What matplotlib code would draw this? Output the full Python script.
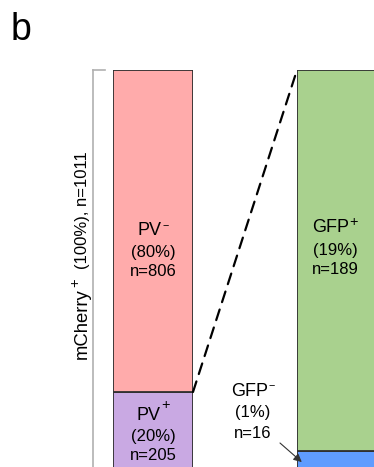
import numpy as np
import matplotlib
matplotlib.use('Agg')
import matplotlib.pyplot as plt
from matplotlib.patches import ConnectionPatch
from matplotlib.lines import Line2D

plt.rcParams['font.family'] = ['Liberation Sans', 'DejaVu Sans']

# data
total_n = 1011
pv_names = ['PV', 'PV']
pv_signs = ['+', '-']
pv_counts = [205, 806]
pv_pct = ['20%', '80%']
pv_colors = ['#C9A9E3', '#FFABAB']
gfp_names = ['GFP', 'GFP']
gfp_signs = ['-', '+']
gfp_counts = [16, 189]
gfp_pct = ['1%', '19%']
gfp_colors = ['#5F9CFF', '#A9D18E']

W, H = 374, 467
fig = plt.figure(figsize=(W / 100, H / 100), dpi=100)
renderer = fig.canvas.get_renderer()

def fx(px):
    return px / W

def fy(py):
    return (H - py) / H

def sup_text(x, y, base, sign, size, rot=0, raise_px=None):
    # base text plus a raised, nearly full size sign
    sgn = '\u2212' if sign == '-' else '+'
    ssize = size * 0.8 if sign == '+' else size * 0.6
    if raise_px is None:
        raise_px = size * 0.45
    if rot == 0:
        t = fig.text(0, 0, base, fontsize=size)
        w = t.get_window_extent(renderer).width
        t.remove()
        t2 = fig.text(0, 0, sgn, fontsize=ssize)
        w2 = t2.get_window_extent(renderer).width
        t2.remove()
        x0 = x - (w + w2) / 2
        fig.text(fx(x0), fy(y), base, ha='left', va='center', fontsize=size)
        fig.text(fx(x0 + w + 0.5), fy(y - raise_px), sgn, ha='left', va='center', fontsize=ssize)
    else:
        t = fig.text(fx(x), fy(y), base, rotation=90, rotation_mode='anchor',
                     ha='left', va='baseline', fontsize=size)
        h = t.get_window_extent(renderer).height
        fig.text(fx(x - size * 0.62), fy(y - h - 1), sgn, rotation=90, rotation_mode='anchor',
                 ha='left', va='baseline', fontsize=ssize)

edge = '#303030'

# left bar (all mCherry+ cells, split by PV)
axL = fig.add_axes([fx(113), fy(467), fx(193) - fx(113), fy(70) - fy(467)])
bottom = 0
for c, col in zip(pv_counts, pv_colors):
    axL.bar(0, c, width=1, bottom=bottom, color=col, edgecolor=edge, linewidth=1.3)
    bottom += c
axL.set_xlim(-0.5, 0.5)
top = sum(pv_counts)
axL.set_ylim(top - 397 / (322 / pv_counts[1]), top)
axL.axis('off')

# right bar (PV+ cells, split by GFP)
axR = fig.add_axes([fx(297), fy(467), fx(377) - fx(297), fy(70) - fy(467)])
bottom = 0
for c, col in zip(gfp_counts, gfp_colors):
    axR.bar(0, c, width=1, bottom=bottom, color=col, edgecolor=edge, linewidth=1.3)
    bottom += c
axR.set_xlim(-0.5, 0.5)
topR = sum(gfp_counts)
axR.set_ylim(topR - 397 / (381 / gfp_counts[1]), topR)
axR.axis('off')

# dashed zoom line from PV+ top to right bar top
con = ConnectionPatch(xyA=(0.5, pv_counts[0]), coordsA=axL.transData,
                      xyB=(-0.5, topR), coordsB=axR.transData,
                      linestyle=(0, (5, 3.5)), color='black', linewidth=1.6)
fig.add_artist(con)

# labels inside bars
sup_text(153, 231, pv_names[1], pv_signs[1], 13)
fig.text(fx(153), fy(253), '(%s)' % pv_pct[1], ha='center', va='center', fontsize=12)
fig.text(fx(153), fy(272), 'n=%d' % pv_counts[1], ha='center', va='center', fontsize=12)

sup_text(153, 415, pv_names[0], pv_signs[0], 13, raise_px=10)
fig.text(fx(153), fy(437), '(%s)' % pv_pct[0], ha='center', va='center', fontsize=12)
fig.text(fx(153), fy(456), 'n=%d' % pv_counts[0], ha='center', va='center', fontsize=12)

sup_text(335, 228, gfp_names[1], gfp_signs[1], 13)
fig.text(fx(335), fy(250), '(%s)' % gfp_pct[1], ha='center', va='center', fontsize=12)
fig.text(fx(335), fy(269), 'n=%d' % gfp_counts[1], ha='center', va='center', fontsize=12)

sup_text(253, 391, gfp_names[0], gfp_signs[0], 13)
fig.text(fx(253), fy(413), '(%s)' % gfp_pct[0], ha='center', va='center', fontsize=12)
fig.text(fx(253), fy(433), 'n=%d' % gfp_counts[0], ha='center', va='center', fontsize=12)

# arrow to the small GFP- segment
axR.annotate('', xy=(-0.44, 10.5), xycoords='data',
             xytext=(fx(280), fy(443)), textcoords='figure fraction',
             arrowprops=dict(arrowstyle='-|>', color='#333333', lw=0.8,
                             mutation_scale=12, shrinkA=0, shrinkB=0))

# bracket and rotated label
fig.add_artist(Line2D([fx(93), fx(93)], [fy(70), fy(470)], color='#B0B0B0', lw=1.2))
fig.add_artist(Line2D([fx(93), fx(105)], [fy(70), fy(70)], color='#B0B0B0', lw=1.2))
sup_text(87, 359, 'mCherry', '+', 13.3, rot=90)
fig.text(fx(87), fy(269), '(100%%), n=%d' % total_n, rotation=90, rotation_mode='anchor',
         ha='left', va='baseline', fontsize=12)

fig.text(fx(11), fy(40), 'b', ha='left', va='baseline', fontsize=27)

plt.savefig('out.png', dpi=100)
